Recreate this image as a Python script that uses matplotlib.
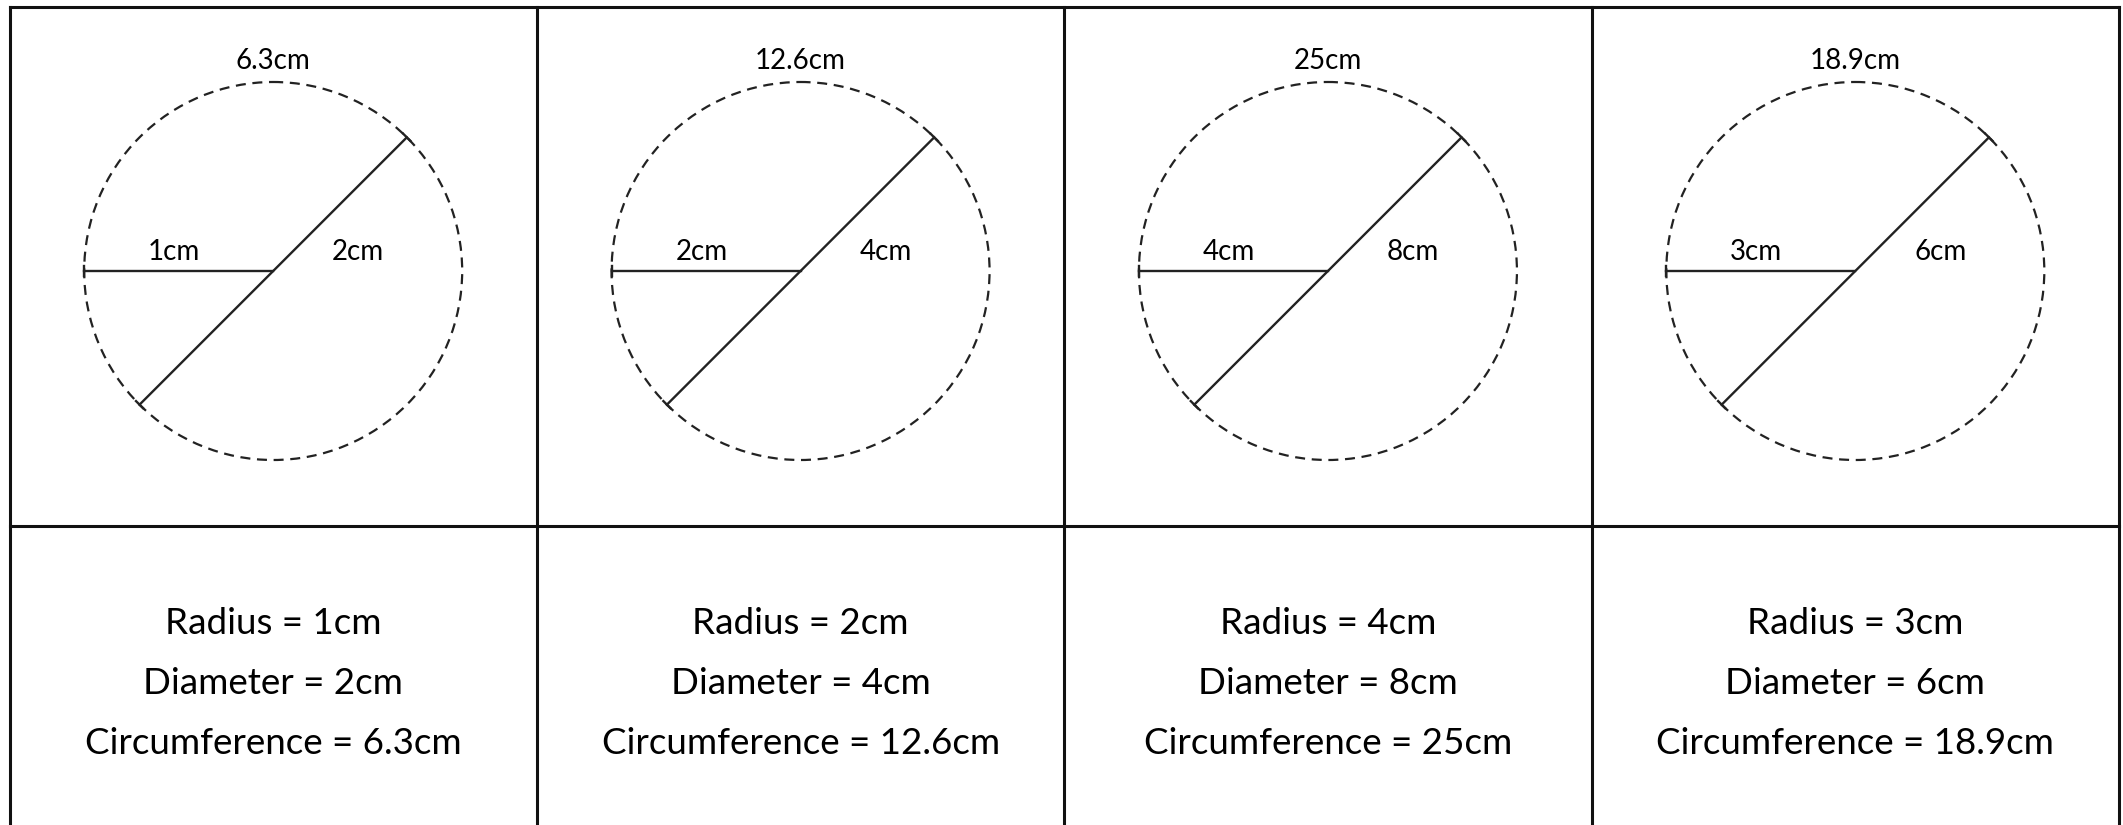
import numpy as np
import matplotlib
matplotlib.use('Agg')
import matplotlib.pyplot as plt
from matplotlib.patches import Circle

# circle facts, one column per circle
radii = [1, 2, 4, 3]
diameters = [2, 4, 8, 6]
circumferences = ['6.3', '12.6', '25', '18.9']

W, H = 2123, 825
plt.rcParams['font.family'] = ['Lato', 'DejaVu Sans']

fig = plt.figure(figsize=(W / 100, H / 100), dpi=100)
ax = fig.add_axes([0, 0, 1, 1])
ax.set_xlim(0, W)
ax.set_ylim(H, 0)
ax.set_aspect('equal')
ax.axis('off')

# table grid (pixel units)
left, right, top, mid = 9.5, 2119, 7, 525.5
n = len(radii)
cell_w = (right - left) / n
grid_kw = dict(color='#111111', lw=2.2, solid_capstyle='projecting')
ax.plot([left, right], [top, top], **grid_kw)
ax.plot([left, right], [mid, mid], **grid_kw)
for i in range(n + 1):
    x = left + i * cell_w
    ax.plot([x, x], [top, H + 5], **grid_kw)

R = 189          # drawn radius, same for every circle
cy = 271
ang = np.deg2rad(45)
tick = 5
line_kw = dict(color='#222222', lw=1.7)


def cap(x, y, dx, dy):
    # small end mark perpendicular to the line direction (dx, dy)
    px, py = -dy, dx
    ax.plot([x - px * tick, x + px * tick], [y - py * tick, y + py * tick], **line_kw)


for i in range(n):
    cx = left + (i + 0.5) * cell_w
    ax.add_patch(Circle((cx, cy), R, fill=False, ec='#222222', lw=1.6,
                        ls=(0, (4.5, 3))))
    # radius
    ax.plot([cx - R, cx], [cy, cy], **line_kw)
    cap(cx - R, cy, 1, 0)
    # diameter
    dx, dy = np.cos(ang), -np.sin(ang)
    x1, y1 = cx + R * dx, cy + R * dy
    x2, y2 = cx - R * dx, cy - R * dy
    ax.plot([x1, x2], [y1, y2], **line_kw)
    cap(x1, y1, dx, dy)
    cap(x2, y2, dx, dy)

    ax.text(cx, 61, f'{circumferences[i]}cm', ha='center', va='center', fontsize=20)
    ax.text(cx - 99, 252, f'{radii[i]}cm', ha='center', va='center', fontsize=20)
    ax.text(cx + 85, 252, f'{diameters[i]}cm', ha='center', va='center', fontsize=20)

    ax.text(cx, 624, f'Radius = {radii[i]}cm', ha='center', va='center', fontsize=26.5)
    ax.text(cx, 684, f'Diameter = {diameters[i]}cm', ha='center', va='center', fontsize=26.5)
    ax.text(cx, 743, f'Circumference = {circumferences[i]}cm', ha='center', va='center', fontsize=26.5)

fig.savefig('out.png', dpi=100, facecolor='white')
